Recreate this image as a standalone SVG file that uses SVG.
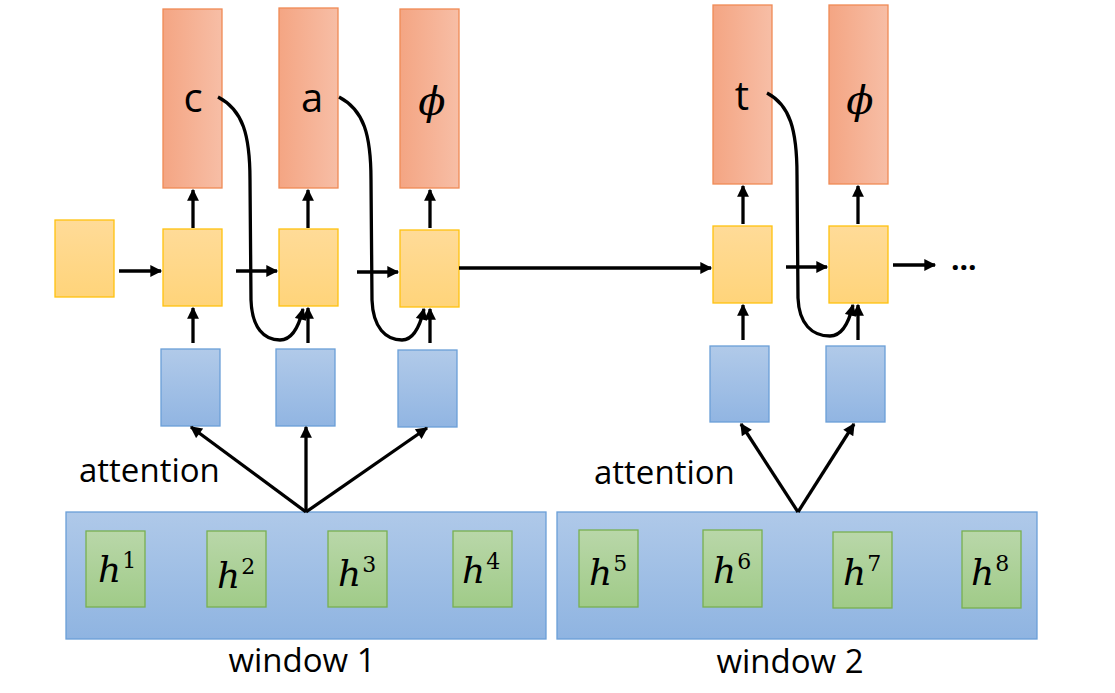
<svg xmlns="http://www.w3.org/2000/svg" width="1115" height="693" viewBox="0 0 1115 693">
<defs>
<linearGradient id="gRed" x1="0" y1="0" x2="1" y2="0"><stop offset="0" stop-color="#F4A583"/><stop offset="1" stop-color="#F7BEA6"/></linearGradient>
<linearGradient id="gYel" x1="0" y1="0" x2="0" y2="1"><stop offset="0" stop-color="#FFDB98"/><stop offset="1" stop-color="#FFD47A"/></linearGradient>
<linearGradient id="gBlue" x1="0" y1="0" x2="0" y2="1"><stop offset="0" stop-color="#B1CAE9"/><stop offset="1" stop-color="#91B5E2"/></linearGradient>
<linearGradient id="gWin" x1="0" y1="0" x2="0" y2="1"><stop offset="0" stop-color="#AFC9E9"/><stop offset="1" stop-color="#8FB4E1"/></linearGradient>
<linearGradient id="gGreen" x1="0" y1="0" x2="0" y2="1"><stop offset="0" stop-color="#B9D7A9"/><stop offset="1" stop-color="#A0CB88"/></linearGradient>
<marker id="arr" viewBox="0 0 10 10" refX="9" refY="5" markerWidth="4" markerHeight="3.6" orient="auto" markerUnits="strokeWidth"><path d="M0,0 L10,5 L0,10 z" fill="#000"/></marker>
</defs>
<style>
.red{fill:url(#gRed);stroke:#F08A55;stroke-width:1.3}
.yel{fill:url(#gYel);stroke:#FFC20E;stroke-width:1.3}
.blue{fill:url(#gBlue);stroke:#6A9FD8;stroke-width:1.3}
.win{fill:url(#gWin);stroke:#6A9FD8;stroke-width:1.3}
.grn{fill:url(#gGreen);stroke:#78B050;stroke-width:1.3}
.lbl{font-family:"Open Sans","Liberation Sans",sans-serif;font-size:40px;fill:#000;text-anchor:middle}
.phi{font-family:"DejaVu Serif","Liberation Serif",serif;font-style:italic;font-size:40px;fill:#000;text-anchor:middle}
.txt{font-family:"Open Sans","Liberation Sans",sans-serif;font-size:33px;fill:#000}
.hv{font-family:"DejaVu Serif","Liberation Serif",serif;font-style:italic;font-size:36px;fill:#000}
.sup{font-family:"DejaVu Serif","Liberation Serif",serif;font-style:normal;font-size:22px}
.ln{stroke:#000;stroke-width:3.3;fill:none;marker-end:url(#arr)}
</style>

<g id="out-c"><rect class="red" x="163" y="9" width="59" height="179"/><text class="lbl" x="193" y="112">c</text></g>
<g id="out-a"><rect class="red" x="279" y="8" width="59" height="180"/><text class="lbl" x="312" y="112">a</text></g>
<g id="out-phi1"><rect class="red" x="400" y="9" width="59" height="179"/><text class="phi" x="432" y="115">ϕ</text></g>
<g id="out-t"><rect class="red" x="713" y="5" width="59" height="179"/><text class="lbl" x="742" y="110">t</text></g>
<g id="out-phi2"><rect class="red" x="829" y="5" width="59" height="179"/><text class="phi" x="860" y="114">ϕ</text></g>

<g id="state0"><rect class="yel" x="55" y="220" width="59" height="77"/></g>
<g id="state1"><rect class="yel" x="163" y="229" width="59" height="77"/></g>
<g id="state2"><rect class="yel" x="279" y="229" width="59" height="77"/></g>
<g id="state3"><rect class="yel" x="400" y="230" width="59" height="77"/></g>
<g id="state4"><rect class="yel" x="713" y="226" width="59" height="77"/></g>
<g id="state5"><rect class="yel" x="829" y="226" width="59" height="77"/></g>

<g id="ctx1"><rect class="blue" x="161" y="349" width="59" height="77"/></g>
<g id="ctx2"><rect class="blue" x="276" y="349" width="59" height="77"/></g>
<g id="ctx3"><rect class="blue" x="398" y="350" width="59" height="77"/></g>
<g id="ctx4"><rect class="blue" x="710" y="346" width="59" height="76"/></g>
<g id="ctx5"><rect class="blue" x="826" y="346" width="59" height="76"/></g>

<g id="window1">
<rect class="win" x="66" y="512" width="480" height="127"/>
<rect class="grn" x="86" y="531" width="59" height="76"/>
<rect class="grn" x="207" y="531" width="59" height="76"/>
<rect class="grn" x="328" y="531" width="59" height="76"/>
<rect class="grn" x="453" y="531" width="59" height="76"/>
<text class="hv" x="98" y="582">h<tspan class="sup" dy="-14" dx="1">1</tspan></text>
<text class="hv" x="217" y="588">h<tspan class="sup" dy="-14" dx="1">2</tspan></text>
<text class="hv" x="338" y="586">h<tspan class="sup" dy="-14" dx="1">3</tspan></text>
<text class="hv" x="462" y="583">h<tspan class="sup" dy="-14" dx="1">4</tspan></text>
<text class="txt" x="302" y="672" text-anchor="middle">window 1</text>
</g>
<g id="window2">
<rect class="win" x="557" y="512" width="480" height="127"/>
<rect class="grn" x="579" y="530" width="59" height="77"/>
<rect class="grn" x="703" y="530" width="59" height="77"/>
<rect class="grn" x="833" y="532" width="59" height="76"/>
<rect class="grn" x="962" y="531" width="59" height="77"/>
<text class="hv" x="589" y="585">h<tspan class="sup" dy="-14" dx="1">5</tspan></text>
<text class="hv" x="713" y="583">h<tspan class="sup" dy="-14" dx="1">6</tspan></text>
<text class="hv" x="843" y="585">h<tspan class="sup" dy="-14" dx="1">7</tspan></text>
<text class="hv" x="971" y="585">h<tspan class="sup" dy="-14" dx="1">8</tspan></text>
<text class="txt" x="790" y="673" text-anchor="middle">window 2</text>
</g>

<g id="labels">
<text class="txt" x="79" y="482">attention</text>
<text class="txt" x="594" y="484">attention</text>
<text class="txt" x="951" y="270" style="font-weight:bold;font-size:30px">...</text>
</g>

<g id="connectors">
<line class="ln" x1="193" y1="228" x2="193" y2="190"/>
<line class="ln" x1="308" y1="228" x2="308" y2="190"/>
<line class="ln" x1="430" y1="228" x2="430" y2="190"/>
<line class="ln" x1="743" y1="224" x2="743" y2="186"/>
<line class="ln" x1="858" y1="224" x2="858" y2="186"/>

<line class="ln" x1="119" y1="271" x2="161" y2="271"/>
<line class="ln" x1="236" y1="271" x2="277" y2="271"/>
<line class="ln" x1="357" y1="272" x2="398" y2="272"/>
<line class="ln" x1="459" y1="268" x2="711" y2="268"/>
<line class="ln" x1="786" y1="267" x2="827" y2="267"/>
<line class="ln" x1="893" y1="265" x2="935" y2="265"/>

<line class="ln" x1="193" y1="343" x2="193" y2="308"/>
<line class="ln" x1="308" y1="343" x2="308" y2="308"/>
<line class="ln" x1="430" y1="343" x2="430" y2="309"/>
<line class="ln" x1="743" y1="340" x2="743" y2="305"/>
<line class="ln" x1="858" y1="340" x2="858" y2="305"/>

<path class="ln" d="M218,97 C243,110 250,135 250,180 L251,300 C252,328 264,340 280,340 C292,340 299,326 303,309"/>
<path class="ln" d="M339,97 C364,110 371,135 371,180 L372,300 C373,328 386,340 402,340 C414,340 420,326 424,309"/>
<path class="ln" d="M767,93 C790,105 797,130 797,175 L798,298 C799,324 812,336 830,336 C842,336 849,322 853,305"/>

<line class="ln" x1="306" y1="512" x2="191" y2="427"/>
<line class="ln" x1="306" y1="512" x2="306" y2="427"/>
<line class="ln" x1="306" y1="512" x2="427" y2="428"/>
<line class="ln" x1="798" y1="512" x2="741" y2="424"/>
<line class="ln" x1="798" y1="512" x2="854" y2="424"/>
</g>
</svg>
